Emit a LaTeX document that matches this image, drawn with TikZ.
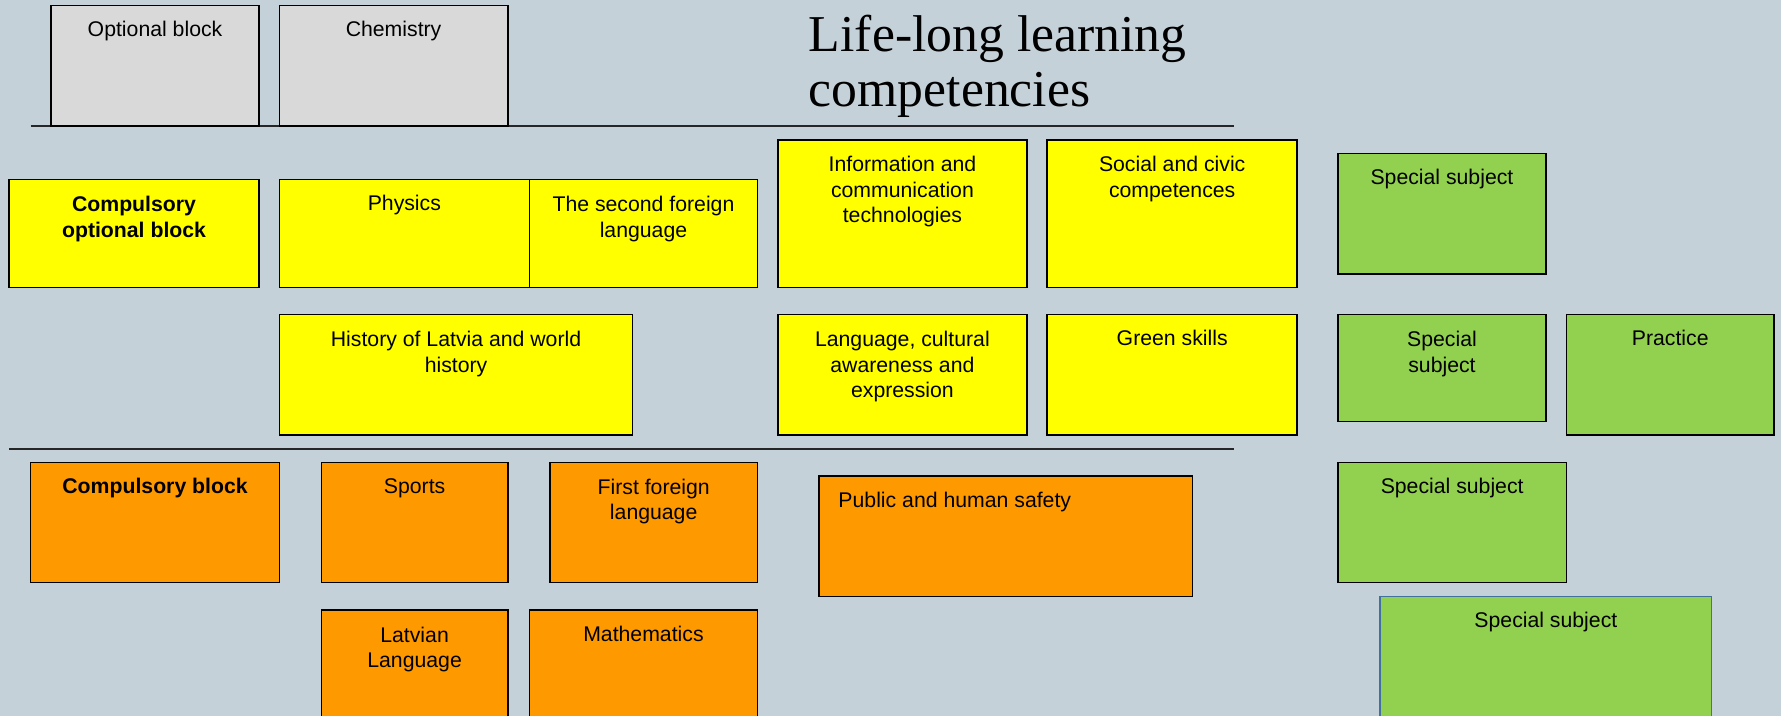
\documentclass[tikz,border=0pt]{standalone}
\usepackage{fontspec}
\setmainfont{Liberation Serif}
\setsansfont{Liberation Sans}
\usepackage{xcolor}

\definecolor{bgblue}{RGB}{197,209,216}
\definecolor{optgray}{RGB}{217,217,217}
\definecolor{subjyellow}{RGB}{255,255,0}
\definecolor{subjorange}{RGB}{255,153,0}
\definecolor{subjgreen}{RGB}{146,208,80}
\definecolor{edgeblue}{RGB}{65,113,156}

\newcommand{\subjfont}{\sffamily\fontsize{18.7}{22.5}\selectfont}
\newcommand{\titlefont}{\rmfamily\fontsize{45.5}{48.5}\selectfont}

\begin{document}
\begin{tikzpicture}[x=1pt,y=-1pt,
  subj/.style={draw=black,line width=1.4pt,anchor=north west,inner sep=0pt,outer sep=0pt},
  subjtext/.style={anchor=north,yshift=-11.5pt,inner sep=0pt,align=center,font=\subjfont,execute at begin node=\strut},
  subjlines/.style={subjtext,yshift=-3pt}]
%define the page
\useasboundingbox (0,0) rectangle (1568,630);
\clip (0,0) rectangle (1568,630);
\fill[bgblue] (0,0) rectangle (1568,630);
%draw the two rules
\draw[line width=1.5pt,black!85] (27,111) -- (1086,111);
\draw[line width=1.5pt,black!85] (8,395) -- (1086,395);
%the title
\node[anchor=north west,inner sep=0pt,align=left,font=\titlefont,execute at begin node=\strut] (title) at (712,13) {Life-long learning\\competencies};
%optional block
\node[subj,fill=optgray,minimum width=183pt,minimum height=106pt] (optblock) at (45,5) {};
\node[subjtext] (optblockt) at (optblock.north) {Optional block};
\node[subj,fill=optgray,minimum width=201pt,minimum height=106pt] (chem) at (246,5) {};
\node[subjtext] (chemt) at (chem.north) {Chemistry};
%compulsory optional block
\node[subj,fill=subjyellow,minimum width=220pt,minimum height=95pt] (compopt) at (8,158) {};
\node[subjlines,font=\subjfont\bfseries] (compoptt) at (compopt.north) {Compulsory\\optional block};
\node[subj,fill=subjyellow,minimum width=220pt,minimum height=95pt] (physics) at (246,158) {};
\node[subjtext] (physicst) at (physics.north) {Physics};
\node[subj,fill=subjyellow,minimum width=201pt,minimum height=95pt] (secondlang) at (466,158) {};
\node[subjlines] (secondlangt) at (secondlang.north) {The second foreign\\language};
\node[subj,fill=subjyellow,minimum width=311pt,minimum height=106pt] (history) at (246,277) {};
\node[subjlines] (historyt) at (history.north) {History of Latvia and world\\history};
%life-long learning competencies
\node[subj,fill=subjyellow,minimum width=219pt,minimum height=130pt] (ict) at (685,123) {};
\node[subjlines] (ictt) at (ict.north) {Information and\\communication\\technologies};
\node[subj,fill=subjyellow,minimum width=220pt,minimum height=130pt] (social) at (922,123) {};
\node[subjlines] (socialt) at (social.north) {Social and civic\\competences};
\node[subj,fill=subjyellow,minimum width=219pt,minimum height=106pt] (culture) at (685,277) {};
\node[subjlines] (culturet) at (culture.north) {Language, cultural\\awareness and\\expression};
\node[subj,fill=subjyellow,minimum width=220pt,minimum height=106pt] (greenskills) at (922,277) {};
\node[subjtext] (greenskillst) at (greenskills.north) {Green skills};
%compulsory block
\node[subj,fill=subjorange,minimum width=219pt,minimum height=106pt] (compblock) at (27,407) {};
\node[subjtext,font=\subjfont\bfseries] (compblockt) at (compblock.north) {Compulsory block};
\node[subj,fill=subjorange,minimum width=164pt,minimum height=106pt] (sports) at (283,407) {};
\node[subjtext] (sportst) at (sports.north) {Sports};
\node[subj,fill=subjorange,minimum width=183pt,minimum height=106pt] (firstlang) at (484,407) {};
\node[subjlines] (firstlangt) at (firstlang.north) {First foreign\\language};
\node[subj,fill=subjorange,minimum width=164pt,minimum height=143pt] (latvian) at (283,537) {};
\node[subjlines] (latviant) at (latvian.north) {Latvian\\Language};
\node[subj,fill=subjorange,minimum width=201pt,minimum height=143pt] (maths) at (466,537) {};
\node[subjtext] (mathst) at (maths.north) {Mathematics};
\node[subj,fill=subjorange,minimum width=329pt,minimum height=106pt] (safety) at (721,419) {};
\node[subjtext,anchor=north west,xshift=17pt] (safetyt) at (safety.north west) {Public and human safety};
%special subjects
\node[subj,fill=subjgreen,minimum width=183pt,minimum height=106pt] (spec1) at (1178,135) {};
\node[subjtext] (spec1t) at (spec1.north) {Special subject};
\node[subj,fill=subjgreen,minimum width=183pt,minimum height=94pt] (spec2) at (1178,277) {};
\node[subjlines] (spec2t) at (spec2.north) {Special\\subject};
\node[subj,fill=subjgreen,minimum width=183pt,minimum height=106pt] (practice) at (1379,277) {};
\node[subjtext] (practicet) at (practice.north) {Practice};
\node[subj,fill=subjgreen,minimum width=201pt,minimum height=106pt] (spec3) at (1178,407) {};
\node[subjtext] (spec3t) at (spec3.north) {Special subject};
\node[subj,fill=subjgreen,draw=edgeblue,line width=1pt,minimum width=292pt,minimum height=155pt] (spec4) at (1215,525) {};
\node[subjtext] (spec4t) at (spec4.north) {Special subject};
\end{tikzpicture}
\end{document}
